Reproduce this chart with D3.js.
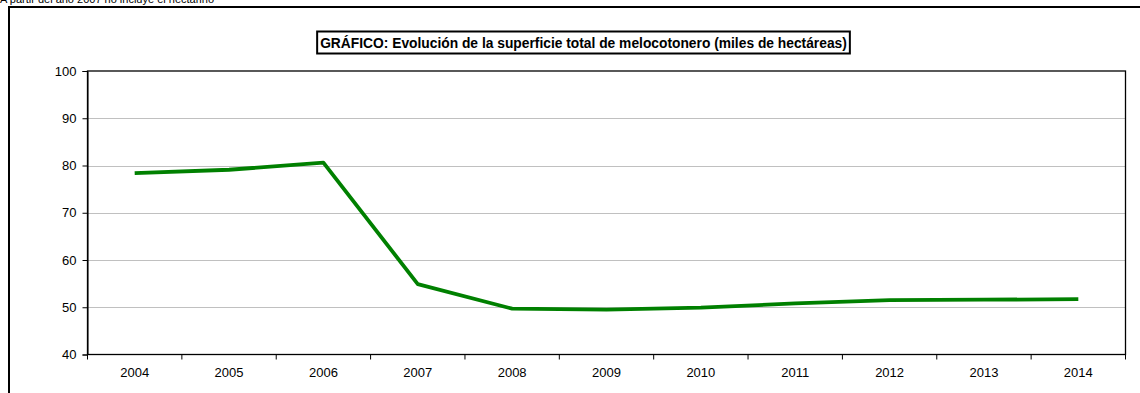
<!DOCTYPE html>
<html>
<head>
<meta charset="utf-8">
<script src="https://cdn.jsdelivr.net/npm/d3@7"></script>
<style>
  html, body { margin: 0; padding: 0; background: #fff; }
  svg { display: block; font-family: Arial, "Liberation Sans", sans-serif; }
</style>
</head>
<body>
<svg id="chart" width="1140" height="393"></svg>
<script>
const years = ["2004","2005","2006","2007","2008","2009","2010","2011","2012","2013","2014"];
const superficie = [78.4, 79.1, 80.6, 54.9, 49.7, 49.5, 49.9, 50.8, 51.5, 51.6, 51.7];
const yTicks = [40, 50, 60, 70, 80, 90, 100];
const titleText = "GRÁFICO: Evolución de la superficie total de melocotonero (miles de hectáreas)";
const noteText = "A partir del año 2007 no incluye el nectarino";

const svg = d3.select("#chart");
const margin = { left: 87.5, right: 1125.5, top: 71, bottom: 354.5 };

// note text (partly above the top edge, as in the original)
svg.append("text").attr("x", 0).attr("y", 3)
  .attr("font-size", 11).attr("fill", "#000").text(noteText);

// outer frame (left + top)
svg.append("path")
  .attr("d", `M9,393 V7 H1140`)
  .attr("fill", "none").attr("stroke", "#000").attr("stroke-width", 2);

const x = d3.scaleBand().domain(years).range([margin.left, margin.right]).padding(0);
const y = d3.scaleLinear().domain([40, 100]).range([margin.bottom, margin.top]);

// gridlines
svg.append("g").selectAll("line").data(yTicks.filter(d => d > 40 && d < 100)).join("line")
  .attr("x1", margin.left).attr("x2", margin.right)
  .attr("y1", d => Math.round(y(d)) + 0.5).attr("y2", d => Math.round(y(d)) + 0.5)
  .attr("stroke", "#c0c0c0").attr("stroke-width", 1);

// plot border
svg.append("rect")
  .attr("x", margin.left).attr("y", margin.top)
  .attr("width", margin.right - margin.left).attr("height", margin.bottom - margin.top)
  .attr("fill", "none").attr("stroke", "#000").attr("stroke-width", 1.3);

// y axis
const yAxis = d3.axisLeft(y).tickValues(yTicks).tickSize(5).tickPadding(6);
const gy = svg.append("g").attr("transform", `translate(${margin.left},0)`).call(yAxis);
gy.select(".domain").attr("stroke", "#000");
gy.selectAll(".tick line").attr("stroke", "#000");
gy.selectAll(".tick text").attr("font-size", 13).attr("font-family", "Arial, 'Liberation Sans', sans-serif").attr("fill", "#000");

// x axis: ticks at band boundaries
const boundaries = years.map(d => x(d)).concat([margin.right]);
svg.append("g").selectAll("line").data(boundaries).join("line")
  .attr("x1", d => d).attr("x2", d => d)
  .attr("y1", margin.bottom).attr("y2", margin.bottom + 5)
  .attr("stroke", "#000").attr("stroke-width", 1);
svg.append("g").selectAll("text").data(years).join("text")
  .attr("x", d => x(d) + x.bandwidth() / 2)
  .attr("y", margin.bottom + 22)
  .attr("text-anchor", "middle").attr("font-size", 13).attr("fill", "#000")
  .text(d => d);

// line
const line = d3.line().x((d, i) => x(years[i]) + x.bandwidth() / 2).y(d => y(d));
svg.append("path").datum(superficie)
  .attr("d", line).attr("fill", "none")
  .attr("stroke", "#008000").attr("stroke-width", 3.8)
  .attr("stroke-linejoin", "round");

// title box
const tg = svg.append("g");
const tt = tg.append("text").attr("x", 583.5).attr("y", 47.5)
  .attr("text-anchor", "middle").attr("font-size", 13.8).attr("font-weight", "bold")
  .attr("fill", "#000").text(titleText);
const bb = tt.node().getBBox();
tg.insert("rect", "text")
  .attr("x", bb.x - 3).attr("y", 31.5)
  .attr("width", bb.width + 6).attr("height", 22)
  .attr("fill", "#fff").attr("stroke", "#000").attr("stroke-width", 2);
</script>
</body>
</html>
